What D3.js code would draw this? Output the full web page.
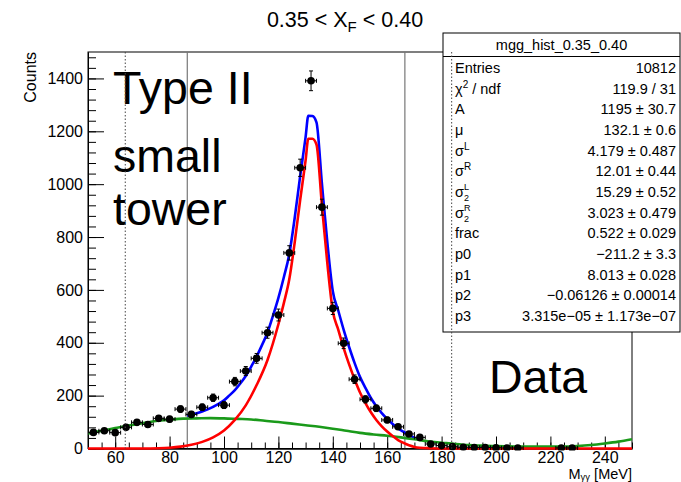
<!DOCTYPE html>
<html><head><meta charset="utf-8">
<script src="https://cdn.jsdelivr.net/npm/d3@7"></script>
<style>
body{margin:0;background:#fff;}
svg{display:block;font-family:"Liberation Sans",Arial,Helvetica,sans-serif;}
</style></head>
<body>
<svg id="c" width="681" height="482"></svg>
<script>
// ---------- data ----------
const binCenters = [52,56,60,64,68,72,76,80,84,88,92,96,100,104,108,112,116,120,124,128,132,136,140,144,148,152,156,160,164,168,172,176,180,184,188,192,196,200,204,208,212,216,220,224,228,232,236,240,244,248];
const counts = [61,67,60,80,99,91,114,111,149,129,156,192,164,253,293,341,438,505,740,1062,1391,913,530,398,262,186,152,108,82,55,42,17,11,7,5,4,4,3,2,2,0,0,0,2,2,0,0,0,0,0];
const errors = [7.8,8.2,7.7,8.9,9.9,9.5,10.7,10.5,12.2,11.4,12.5,13.9,12.8,15.9,17.1,18.5,20.9,22.5,27.2,32.6,37.3,30.2,23.0,20.0,16.2,13.6,12.3,10.4,9.1,7.4,6.5,4.1,3.3,2.6,2.2,2.0,2.0,1.7,1.4,1.4,0,0,0,1.4,1.4,0,0,0,0,0];
const binHalfWidth = 2;

const bkgX = [50,55,60,65,70,75,80,85,90,95,100,105,110,115,120,125,130,135,140,145,150,155,160,165,170,175,180,185,190,195,200,205,210,215,220,225,230,235,240,245,250];
const bkgY = [57,67,77,87,96,104,109,113,114,115,114,112,110,105,100,94,88,82,75,67,59,53,48,42,35,27,22,17,13,11,9,8,7,7,7,7,9,13,19,26,35];

const sigX = [50,70,76,80,84,88,92,96,100,104,108,112,116,120,122,124,126,128,130,131,132.5,134,136,138,140,142,144,146,148,150,152,154,156,158,160,162,164,166,168,170,172,176,180,250];
const sigY = [0,0,1,3,7,14,25,42,68,108,163,240,335,470,550,640,780,940,1090,1172,1172,1150,920,700,520,450,380,318,262,212,172,137,108,84,64,47,32,21,12,6,3,1,0,0];

const totX = [86.5,90,94,98,100,102,104,106,108,110,112,114,116,118,120,122,124,126,128,130,131,132.5,134,136,138,140,142,144,146,148,150,152,154,156,158,160,162,164,166,168,170,172];
const totY = [124,133,148,169,182,201,221,246,274,310,348,392,439,502,570,648,735,873,1030,1178,1259,1258,1234,1002,779,595,522,449,384,324,271,229,191,160,134,112,93,76,63,52,41,36];

const solidLinesX = [86.5,166.5];
const dottedLinesX = [63.7,183.7];

const xTicks = [60,80,100,120,140,160,180,200,220,240];
const yTicks = [0,200,400,600,800,1000,1200,1400];

const statsTitle = "mgg_hist_0.35_0.40";
const statsNames = ["Entries","chi2","A","mu","sL","sR","s2L","s2R","frac","p0","p1","p2","p3"];
const statsValues = ["10812","119.9 / 31","1195 \u00b1 30.7","132.1 \u00b1 0.6","4.179 \u00b1 0.487","12.01 \u00b1 0.44","15.29 \u00b1 0.52","3.023 \u00b1 0.479","0.522 \u00b1 0.029","\u2212211.2 \u00b1 3.3","8.013 \u00b1 0.028","\u22120.06126 \u00b1 0.00014","3.315e\u221205 \u00b1 1.173e\u221207"];

// ---------- layout ----------
const L=88, R=632, T=52, B=448.5;
const svg = d3.select("#c");
const x = d3.scaleLinear().domain([50,250]).range([L,R]);
const y = d3.scaleLinear().domain([0,1500]).range([B,T]);

// title
const title = svg.append("text").attr("x",345).attr("y",27).attr("text-anchor","middle").attr("font-size",21.5);
title.append("tspan").text("0.35 < X");
title.append("tspan").attr("font-size",15).attr("dy",5).text("F");
title.append("tspan").attr("dy",-5).text(" < 0.40");

// frame
svg.append("rect").attr("x",L).attr("y",T).attr("width",R-L).attr("height",B-T).attr("fill","none").attr("stroke","#000").attr("stroke-width",1);

// vertical lines
svg.selectAll("line.solidv").data(solidLinesX).enter().append("line")
  .attr("x1",d=>x(d)).attr("x2",d=>x(d)).attr("y1",T).attr("y2",B)
  .attr("stroke","#777").attr("stroke-width",1.2);

// axes
const yMinor = d3.range(0,1501,40);
const xMinor = d3.range(50,251,5);
const gyMinor = svg.append("g").attr("transform",`translate(${L},0)`)
  .call(d3.axisLeft(y).tickValues(yMinor).tickSize(-8).tickSizeOuter(0).tickFormat(""));
const gy = svg.append("g").attr("transform",`translate(${L},0)`)
  .call(d3.axisLeft(y).tickValues(yTicks).tickSize(-16).tickSizeOuter(0).tickPadding(5).tickFormat(d3.format("d")));
const gxMinor = svg.append("g").attr("transform",`translate(0,${B})`)
  .call(d3.axisBottom(x).tickValues(xMinor).tickSize(-6).tickSizeOuter(0).tickFormat(""));
const gx = svg.append("g").attr("transform",`translate(0,${B})`)
  .call(d3.axisBottom(x).tickValues(xTicks).tickSize(-12).tickSizeOuter(0).tickPadding(3).tickFormat(d3.format("d")));
[gy,gx,gyMinor,gxMinor].forEach(g=>{
  g.attr("font-family",null).attr("font-size",16);
  g.selectAll("text").attr("fill","#000");
  g.selectAll("line").attr("stroke","#000");
  g.select(".domain").attr("stroke","#000");
});

// axis titles
svg.append("text").attr("transform",`translate(36,${T}) rotate(-90)`).attr("text-anchor","end").attr("font-size",16).text("Counts");
const xt = svg.append("text").attr("x",R).attr("y",479).attr("text-anchor","end").attr("font-size",14.5);
xt.append("tspan").text("M");
xt.append("tspan").attr("font-size",9.5).attr("dy",1).text("\u03b3\u03b3");
xt.append("tspan").attr("dy",-1).text(" [MeV]");

// curves
const line = d3.line().curve(d3.curveMonotoneX);
svg.append("clipPath").attr("id","fr").append("rect").attr("x",L).attr("y",T).attr("width",R-L).attr("height",B-T+2);
const plot = svg.append("g").attr("clip-path","url(#fr)");
plot.append("path").attr("d",line(totX.map((d,i)=>[x(d),y(totY[i])]))).attr("fill","none").attr("stroke","#0000ff").attr("stroke-width",2.6);
plot.append("path").attr("d",line(bkgX.map((d,i)=>[x(d),y(bkgY[i])]))).attr("fill","none").attr("stroke","#1a9a1a").attr("stroke-width",2.6);
plot.append("path").attr("d",line(sigX.map((d,i)=>[x(d),y(sigY[i])]))).attr("fill","none").attr("stroke","#ff0000").attr("stroke-width",2.6);

// data points
const pts = binCenters.map((c,i)=>({c,n:counts[i],e:errors[i]})).filter(d=>d.n>0);
const pg = plot.append("g").attr("stroke","#000").attr("stroke-width",1);
pts.forEach(d=>{
  const cx=x(d.c), cy=y(d.n), x0=x(d.c-binHalfWidth), x1=x(d.c+binHalfWidth), y0=y(d.n-d.e), y1=y(d.n+d.e);
  pg.append("line").attr("x1",x0).attr("x2",x1).attr("y1",cy).attr("y2",cy);
  pg.append("line").attr("x1",cx).attr("x2",cx).attr("y1",y0).attr("y2",y1);
  pg.append("line").attr("x1",x0).attr("x2",x0).attr("y1",cy-2).attr("y2",cy+2);
  pg.append("line").attr("x1",x1).attr("x2",x1).attr("y1",cy-2).attr("y2",cy+2);
  pg.append("line").attr("x1",cx-2).attr("x2",cx+2).attr("y1",y0).attr("y2",y0);
  pg.append("line").attr("x1",cx-2).attr("x2",cx+2).attr("y1",y1).attr("y2",y1);
});
plot.append("g").selectAll("circle").data(pts).enter().append("circle")
  .attr("cx",d=>x(d.c)).attr("cy",d=>y(d.n)).attr("r",3.8).attr("fill","#000");

// big labels
[["Type II",103.5],["small",171.5],["tower",225]].forEach(([t,yy])=>{
  svg.append("text").attr("x",113).attr("y",yy).attr("font-size",46.5).text(t);
});
svg.append("text").attr("x",489).attr("y",393).attr("font-size",46.5).text("Data");

// stats box
const bx=443, by=33, bw=237, bh=299;
svg.append("rect").attr("x",bx).attr("y",by).attr("width",bw).attr("height",bh).attr("fill","#fff").attr("stroke","#000").attr("stroke-width",1);
svg.append("line").attr("x1",bx).attr("x2",bx+bw).attr("y1",56.5).attr("y2",56.5).attr("stroke","#000");
svg.append("text").attr("x",bx+bw/2).attr("y",50).attr("text-anchor","middle").attr("font-size",14.5).text(statsTitle);
const sg = svg.append("g").attr("font-size",14.5);
const lx = 455;
statsNames.forEach((n,i)=>{
  const yy = 73 + i*20.65;
  const t = sg.append("text").attr("x",lx).attr("y",yy);
  if(n==="chi2"){ t.append("tspan").text("\u03c7"); t.append("tspan").attr("font-size",10).attr("dy",-6).text("2"); t.append("tspan").attr("dy",6).text(" / ndf"); }
  else if(n==="mu"){ t.text("\u03bc"); }
  else if(n==="sL"||n==="sR"){ t.append("tspan").text("\u03c3"); t.append("tspan").attr("font-size",10).attr("dy",-6).text(n==="sL"?"L":"R"); }
  else if(n==="s2L"||n==="s2R"){
    t.append("tspan").text("\u03c3");
    t.append("tspan").attr("font-size",9).attr("dy",-7).text(n==="s2L"?"L":"R");
    t.append("tspan").attr("font-size",9).attr("dx",n==="s2L"?-5:-6.5).attr("dy",11.5).text("2");
  }
  else t.text(n);
  sg.append("text").attr("x",bx+bw-4).attr("y",yy).attr("text-anchor","end").text(statsValues[i]);
});

// dotted lines (drawn over box)
svg.selectAll("line.dotv").data(dottedLinesX).enter().append("line")
  .attr("x1",d=>x(d)).attr("x2",d=>x(d)).attr("y1",T).attr("y2",B)
  .attr("stroke","#444").attr("stroke-width",1).attr("stroke-dasharray","1.5,2");
</script>
</body></html>
